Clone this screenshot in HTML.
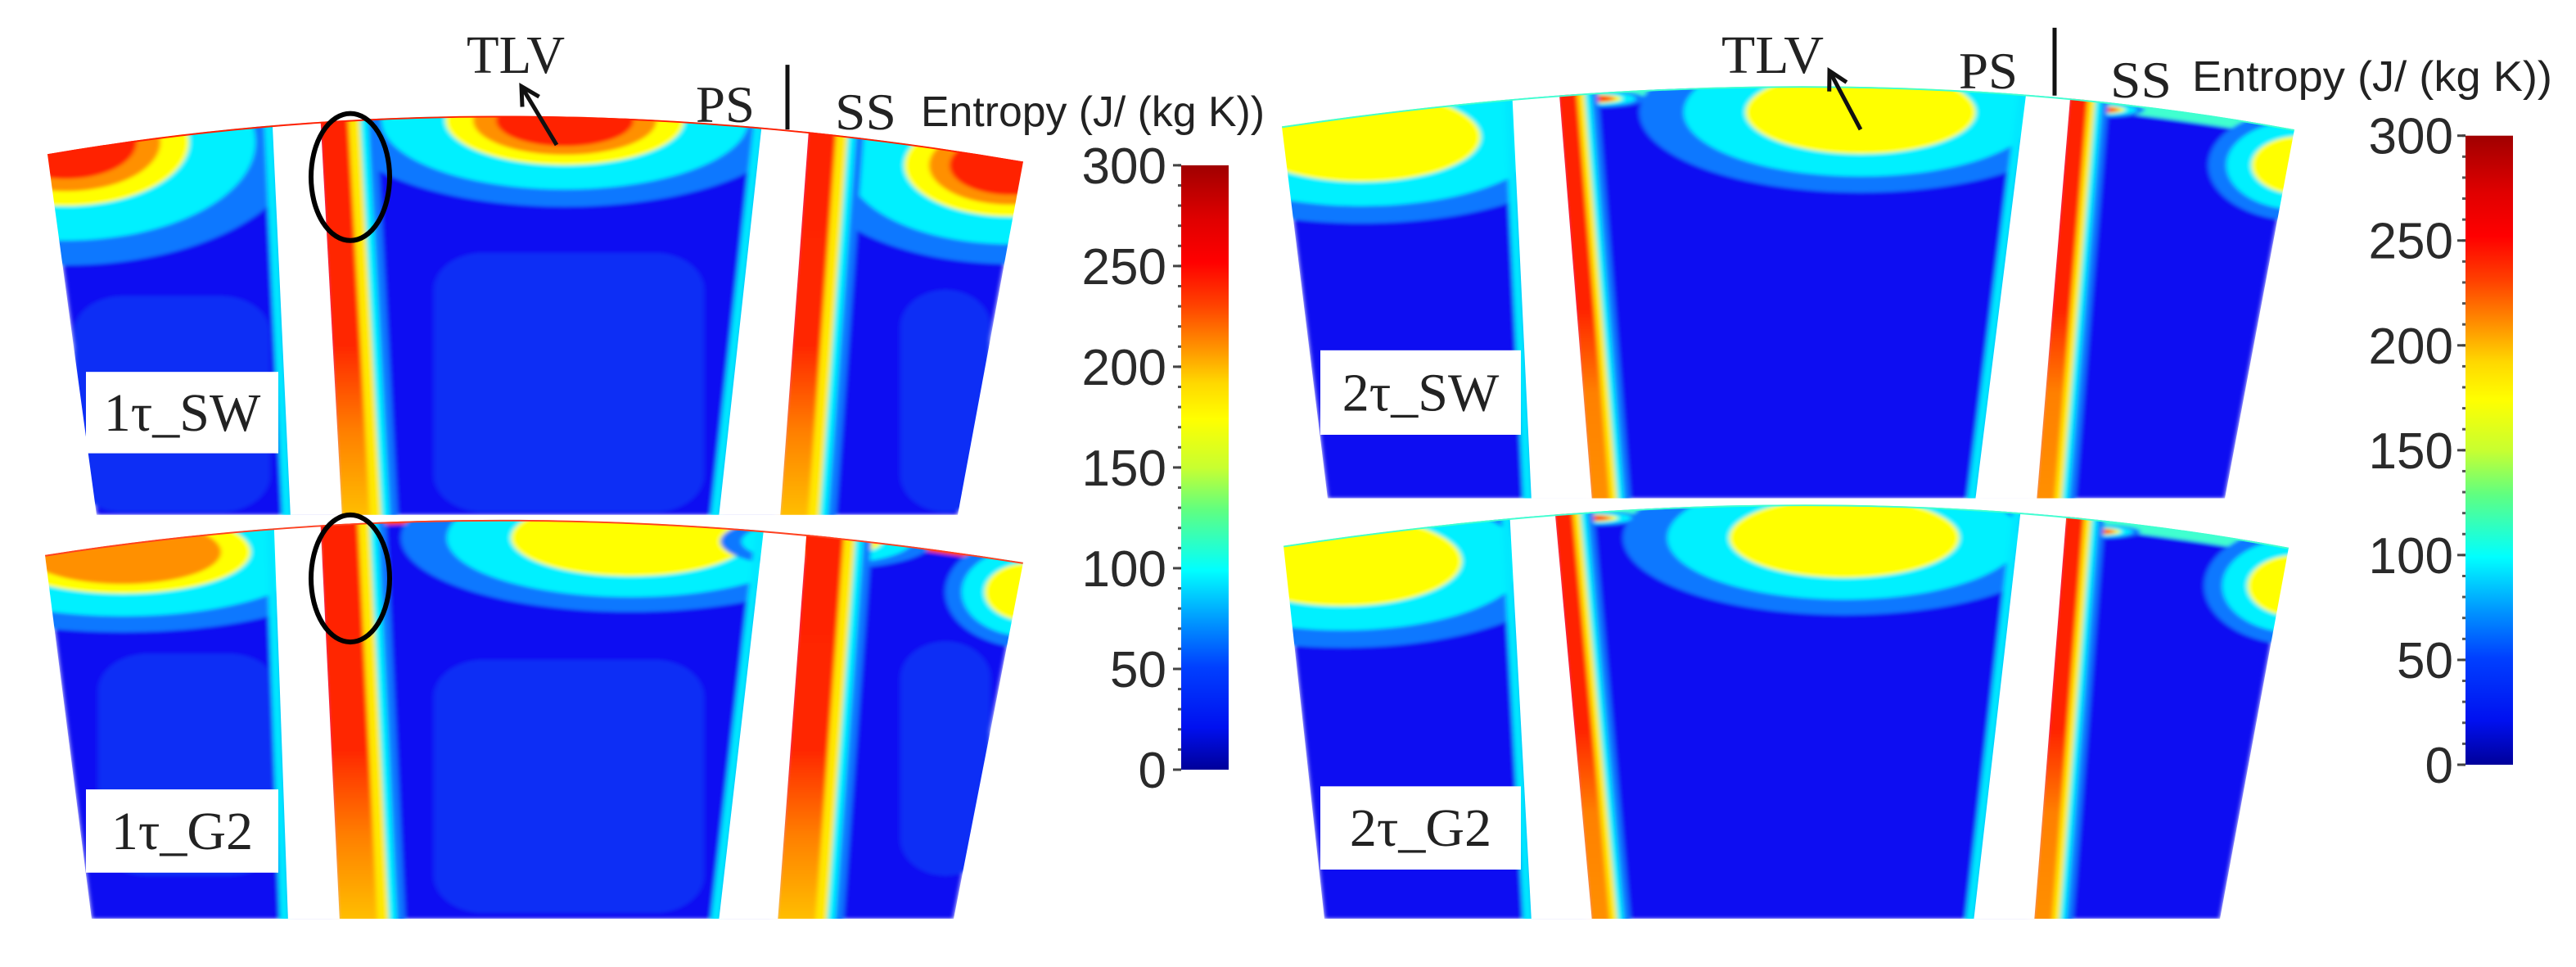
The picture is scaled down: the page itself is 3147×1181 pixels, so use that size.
<!DOCTYPE html>
<html><head><meta charset="utf-8"><style>
html,body{margin:0;padding:0;background:#fff;overflow:hidden;}
svg{display:block;}
</style></head><body>
<svg id="chart" width="3147" height="1181" viewBox="0 0 3147 1181" xmlns="http://www.w3.org/2000/svg">
<defs>
<filter id="soft" x="-5%" y="-5%" width="110%" height="110%"><feGaussianBlur stdDeviation="3"/></filter>
<linearGradient id="cbar" x1="0" y1="1" x2="0" y2="0">
<stop offset="0" stop-color="#00009a"/><stop offset="0.07" stop-color="#0010f0"/>
<stop offset="0.17" stop-color="#0040ff"/><stop offset="0.24" stop-color="#0090ff"/>
<stop offset="0.33" stop-color="#00ffff"/><stop offset="0.43" stop-color="#60ff80"/>
<stop offset="0.5" stop-color="#c8ff30"/><stop offset="0.58" stop-color="#ffff00"/>
<stop offset="0.64" stop-color="#ffd800"/><stop offset="0.7" stop-color="#ff9000"/>
<stop offset="0.77" stop-color="#ff4000"/><stop offset="0.84" stop-color="#ff0000"/>
<stop offset="0.91" stop-color="#e00000"/><stop offset="1" stop-color="#a00000"/>
</linearGradient>
<linearGradient id="hotband" x1="0" y1="0" x2="0" y2="1">
<stop offset="0" stop-color="#ff2000"/><stop offset="0.6" stop-color="#ff2800"/>
<stop offset="0.8" stop-color="#ff8000"/><stop offset="1" stop-color="#ffc000"/>
</linearGradient>
<linearGradient id="hotband2" x1="0" y1="0" x2="0" y2="1">
<stop offset="0" stop-color="#ff2000"/><stop offset="0.55" stop-color="#ff2000"/>
<stop offset="0.75" stop-color="#ff8000"/><stop offset="1" stop-color="#ff9000"/>
</linearGradient>
</defs>
</svg>
<script>
// Colorbar data
const cbTicks = [0, 50, 100, 150, 200, 250, 300];
const cbMin = 0, cbMax = 300;
// contour level colours (outer -> inner)
const levelColors = ['#0a78ff', '#00f0ff', '#ffff00', '#ff9000', '#ff2000'];
const levelScale = [1.0, 0.8, 0.52, 0.4, 0.3];

const SY = 0.7532;
const NS = 'http://www.w3.org/2000/svg';
const svg = document.getElementById('chart');
function mk(tag, attrs, parent) {
  const e = document.createElementNS(NS, tag);
  for (const k in attrs) e.setAttribute(k, attrs[k]);
  (parent || root).appendChild(e);
  return e;
}
const root = document.createElementNS(NS, 'g');
root.setAttribute('transform', `scale(1,${SY})`);
svg.appendChild(root);

const panels = [
 {name:'1tau-sw', label:'1τ_SW', L:[58,250], P:[626,120], R:[1250,262], BL:[118,835], BR:[1170,835], bot:835,
  blades:[{lt:333,lb:355,rt:392,rb:418,yt:205},{lt:930,lb:878,rt:988,rb:953,yt:210}], band:[34,14,10,10], grad:'hotband',
  hot:[{cx:690,cy:195,rx:280,ry:140,n:5},{cx:80,cy:230,rx:290,ry:200,n:5},{cx:1235,cy:268,rx:250,ry:160,n:5}],
  light:[[530,410,330,420],[90,480,240,350],[1100,470,110,360]], dark:[[440,262,25,45],[1040,290,22,40]],
  rim:'#ff2000', lab:[105,603,235,132]},
 {name:'1tau-g2', label:'1τ_G2', L:[55,900], P:[627,780], R:[1250,912], BL:[112,1490], BR:[1165,1490], bot:1490,
  blades:[{lt:335,lb:352,rt:392,rb:415,yt:862},{lt:932,lb:878,rt:985,rb:950,yt:870}], band:[46,14,10,10], grad:'hotband',
  hot:[{cx:150,cy:895,rx:300,ry:130,n:4},{cx:770,cy:872,rx:280,ry:120,n:3},{cx:1255,cy:960,rx:100,ry:90,n:3},{cx:1010,cy:878,rx:130,ry:45,n:5}],
  light:[[530,1070,330,410],[120,1060,220,360],[1100,1040,110,380]], dark:[],
  rim:'#ff4020', lab:[105,1280,235,135]},
 {name:'2tau-sw', label:'2τ_SW', L:[1566,205], P:[2241,72], R:[2803,210], BL:[1622,808], BR:[2718,808], bot:808,
  blades:[{lt:1848,lb:1871,rt:1906,rb:1945,yt:170},{lt:2473,lb:2413,rt:2528,rb:2488,yt:175}], band:[22,9,8,8], grad:'hotband2',
  hot:[{cx:1663,cy:222,rx:280,ry:140,n:3},{cx:2273,cy:182,rx:270,ry:130,n:3},{cx:2808,cy:268,rx:110,ry:90,n:3},{cx:1950,cy:160,rx:60,ry:14,n:5},{cx:2570,cy:178,rx:50,ry:12,n:5}],
  light:[], dark:[], rim:'#40ffd0', lab:[1613,568,245,137]},
 {name:'2tau-g2', label:'2τ_G2', L:[1568,885], P:[2241,750], R:[2796,888], BL:[1618,1490], BR:[2712,1490], bot:1490,
  blades:[{lt:1845,lb:1871,rt:1901,rb:1945,yt:850},{lt:2466,lb:2411,rt:2523,rb:2485,yt:858}], band:[22,9,8,8], grad:'hotband2',
  hot:[{cx:1640,cy:910,rx:280,ry:140,n:3},{cx:2253,cy:872,rx:270,ry:125,n:3},{cx:2803,cy:950,rx:110,ry:95,n:3},{cx:1945,cy:840,rx:60,ry:12,n:5},{cx:2565,cy:862,rx:50,ry:11,n:5}],
  light:[], dark:[], rim:'#40ffd0', lab:[1613,1275,245,135]}
];

panels.forEach((p, i) => {
  const outline = `M${p.L[0]},${p.L[1]} Q${p.P[0]},${p.P[1]} ${p.R[0]},${p.R[1]} L${p.BR[0]},${p.BR[1]} L${p.BL[0]},${p.BL[1]} Z`;
  const cp = mk('clipPath', {id:'clip'+i}, svg.querySelector('defs'));
  mk('path', {d: outline}, cp);
  const g = mk('g', {'clip-path':`url(#clip${i})`});
  
  
  const inner = mk('g', {filter:'url(#soft)'}, g);
  mk('path', {d: outline, fill:'#0a0af2'}, inner);
  p.light.forEach(r => mk('rect', {x:r[0], y:r[1], width:r[2], height:r[3], rx:60, fill:'#0c2ff5'}, inner));
  p.dark.forEach(d => mk('ellipse', {cx:d[0], cy:d[1], rx:d[2], ry:d[3], fill:'#0000c4'}, inner));
  mk('path', {d:`M${p.L[0]},${p.L[1]} Q${p.P[0]},${p.P[1]} ${p.R[0]},${p.R[1]}`, fill:'none', stroke:p.rim, 'stroke-width': i<2?10:30}, inner);
  p.hot.forEach(h => {
    for (let k = 0; k < h.n; k++) {
      const e = mk('ellipse', {cx:h.cx, cy:h.cy, rx:h.rx*levelScale[k], ry:h.ry*levelScale[k], fill:levelColors[k]}, inner);
      
      
    }
  });
  const top = p.blades[0].yt - 60;
  p.blades.forEach(b => {
    const slope = (b.rb - b.rt) / (p.bot - b.yt);
    const xt = b.rt - slope * (b.yt - top);
    const widths = p.band;
    const cols = ['url(#'+p.grad+')', '#ffe800', '#00f0ff', '#0a78ff'];
    let off = 0;
    const polys = [];
    for (let k = 0; k < widths.length; k++) { polys.push([off, off + widths[k], cols[k]]); off += widths[k]; }
    polys.reverse().forEach(pp => {
      mk('polygon', {points:`${xt-4},${top} ${xt+pp[1]},${top} ${b.rb+pp[1]},${p.bot+5} ${b.rb-4},${p.bot+5}`, fill:pp[2]}, inner);
    });
    const sl = (b.lb - b.lt) / (p.bot - b.yt);
    const xl = b.lt - sl * (b.yt - top);
    mk('polygon', {points:`${xl-10},${top} ${xl+2},${top} ${b.lb+2},${p.bot+5} ${b.lb-10},${p.bot+5}`, fill:'#00e8ff'}, inner);
  });
  p.blades.forEach((b, j) => {
    const sl = (b.lb - b.lt) / (p.bot - b.yt), sr = (b.rb - b.rt) / (p.bot - b.yt);
    const xl = b.lt - sl * (b.yt - top), xr = b.rt - sr * (b.yt - top);
    const bl = mk('polygon', {points:`${xl},${top} ${xr},${top} ${b.rb},${p.bot+5} ${b.lb},${p.bot+5}`, fill:'#fff'}, g);
    
    
  });
  mk('path', {d:`M${p.L[0]},${p.L[1]} Q${p.P[0]},${p.P[1]} ${p.R[0]},${p.R[1]}`, fill:'none', stroke:p.rim, 'stroke-width':5}, g);
  const lg = mk('g', {}, svg);
  
  
  mk('rect', {x:p.lab[0], y:p.lab[1]*SY, width:p.lab[2], height:p.lab[3]*SY, fill:'#fff'}, lg);
  const t = mk('text', {x:p.lab[0]+p.lab[2]/2, y:(p.lab[1]+p.lab[3]/2)*SY+22, 'text-anchor':'middle', 'font-family':'"Liberation Serif", serif', 'font-size':66, fill:'#222'}, lg);
  t.textContent = p.label;
});

[[428,287,48,103],[428,938,48,103]].forEach(c => {
  const e = mk('ellipse', {cx:c[0], cy:c[1], rx:c[2], ry:c[3], fill:'none', stroke:'#000', 'stroke-width':6, 'vector-effect':'non-scaling-stroke'});
  
  
});

function txt(x, y, s, size, fam, name, extra) {
  const t = mk('text', Object.assign({x, y, 'font-size':size, 'font-family':fam, fill:'#222'}, extra || {}), svg);
  t.textContent = s;
  
  
  return t;
}
const serif = '"Liberation Serif", serif', sans = '"Liberation Sans", sans-serif';
[[0, 89, 149, 158, 154, 962, 105, 210, 680, 235, 637, 140],
 [1573, 89, 108, 119, 111, 937+1573, 45, 155, 700+1573, 210, 662+1573, 115]].forEach((a, k) => {
  const ox = a[0];
  txt(ox + (k ? 530 : 570), a[1], 'TLV', 66, serif, 'tlv-label', {textLength: k?125:120, lengthAdjust:'spacingAndGlyphs'});
  txt(ox + (k ? 820 : 850), a[2], 'PS', 64, serif, 'ps-label', {textLength:72, lengthAdjust:'spacingAndGlyphs'});
  txt(ox + (k ? 1005 : 1020), a[3], 'SS', 64, serif, 'ss-label', {textLength:75, lengthAdjust:'spacingAndGlyphs'});
  txt(ox + (k ? 1105 : 1125), a[4], 'Entropy (J/ (kg K))', 52, sans, 'colorbar-title', {textLength:k?440:420, lengthAdjust:'spacingAndGlyphs'});
  const ln = mk('line', {x1:a[5], y1:a[6], x2:a[5], y2:a[7], stroke:'#111', 'stroke-width':5, 'vector-effect':'non-scaling-stroke'});
  
  
  const ar = mk('line', {x1:a[8], y1:a[9]*SY, x2:a[10], y2:a[11]*SY, stroke:'#111', 'stroke-width':5}, svg);
  
  
  const dx = a[10]-a[8], dy = (a[11]-a[9])*SY, L = Math.hypot(dx, dy), ux = dx/L, uy = dy/L;
  const hx = a[10], hy = a[11]*SY;
  const hp = mk('polyline', {points:`${hx - ux*22 - uy*12},${hy - uy*22 + ux*12} ${hx},${hy} ${hx - ux*22 + uy*12},${hy - uy*22 - ux*12}`, fill:'none', stroke:'#111', 'stroke-width':5}, svg);
  
  
});

[{x:1443, y0:1248, y1:268, lx:1425}, {x:3012, y0:1240, y1:220, lx:2997}].forEach(cb => {
  const g = mk('g', {}, svg);
  
  
  const yOf = v => (cb.y0 + (v - cbMin) / (cbMax - cbMin) * (cb.y1 - cb.y0)) * SY;
  mk('rect', {x:cb.x, y:cb.y1*SY, width:58, height:(cb.y0-cb.y1)*SY, fill:'url(#cbar)'}, g);
  for (let v = cbMin; v <= cbMax; v += 10) {
    mk('line', {x1:cb.x-4, x2:cb.x, y1:yOf(v), y2:yOf(v), stroke:'#555', 'stroke-width':3}, g);
  }
  cbTicks.forEach(v => {
    mk('line', {x1:cb.x-10, x2:cb.x, y1:yOf(v), y2:yOf(v), stroke:'#444', 'stroke-width':3}, g);
    const t = mk('text', {x:cb.lx, y:yOf(v)+22, 'text-anchor':'end', 'font-family':sans, 'font-size':62, fill:'#2a2a2a'}, g);
    t.textContent = v;
    
    
  });
});
</script>
</body></html>
